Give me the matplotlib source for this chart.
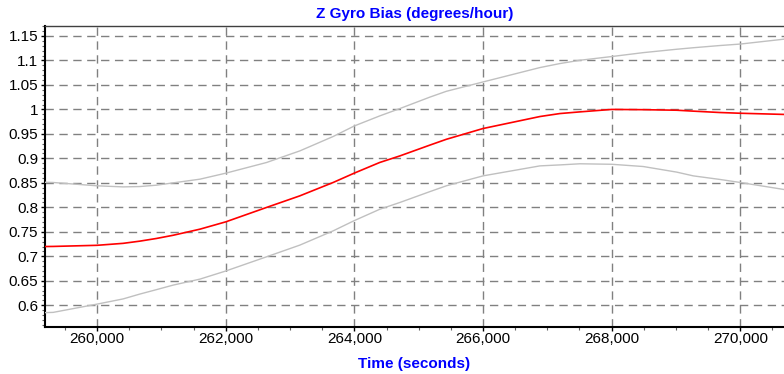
import numpy as np
import matplotlib
matplotlib.use("Agg")
import matplotlib.pyplot as plt
from matplotlib.ticker import FuncFormatter, MultipleLocator

# values
time_s = [259190, 259316, 260000, 260404, 260664, 260924, 261182, 261600, 262000,
          262634, 263152, 263670, 264000, 264393, 264708, 265171, 265430, 266000,
          266885, 267196, 267507, 268000, 268492, 269011, 269270, 269684, 270000,
          270680]
bias = [0.7200, 0.7202, 0.7225, 0.7265, 0.7310, 0.7365, 0.7430, 0.7555, 0.7704,
        0.7998, 0.8235, 0.8508, 0.8700, 0.8916, 0.9051, 0.9270, 0.9390, 0.9610,
        0.9855, 0.9916, 0.9950, 1.0000, 0.9995, 0.9984, 0.9965, 0.9937, 0.9922,
        0.9898]
upper = [0.8512, 0.8508, 0.8440, 0.8418, 0.8425, 0.8453, 0.8500, 0.8576, 0.8698,
         0.8916, 0.9153, 0.9447, 0.9663, 0.9867, 1.0018, 1.0250, 1.0370, 1.0561,
         1.0855, 1.0937, 1.1004, 1.1080, 1.1160, 1.1229, 1.1260, 1.1305, 1.1335,
         1.1435]
lower = [0.5850, 0.5855, 0.6024, 0.6130, 0.6229, 0.6320, 0.6412, 0.6535, 0.6700,
         0.6990, 0.7229, 0.7520, 0.7730, 0.7960, 0.8100, 0.8320, 0.8440, 0.8643,
         0.8847, 0.8867, 0.8890, 0.8880, 0.8834, 0.8720, 0.8643, 0.8570, 0.8508,
         0.8365]

plt.rcParams['font.family'] = ['Liberation Sans', 'DejaVu Sans']

fig = plt.figure(figsize=(7.84, 3.74), dpi=100)
ax = fig.add_axes([0.0574, 0.1265, 0.9426, 0.804])

ax.plot(time_s, upper, color="#c0c0c0", lw=1.0, zorder=3)
ax.plot(time_s, lower, color="#c0c0c0", lw=1.0, zorder=3)
ax.plot(time_s, bias, color="#ff0000", lw=1.2, zorder=4)

ax.set_xlim(259190, 270680)
ax.set_ylim(0.5563, 1.1704)

ax.xaxis.set_major_locator(MultipleLocator(2000))
ax.xaxis.set_minor_locator(MultipleLocator(500))
ax.yaxis.set_major_locator(MultipleLocator(0.05))
ax.yaxis.set_minor_locator(MultipleLocator(0.01))
ax.xaxis.set_major_formatter(FuncFormatter(lambda v, p: f"{int(round(v)):,}"))
ax.yaxis.set_major_formatter(FuncFormatter(lambda v, p: f"{v:.2f}".rstrip("0").rstrip(".")))

ax.grid(True, which="major", color="#808080", linestyle=(0, (6, 4)), lw=1.0, zorder=1)

ax.spines["right"].set_visible(False)
ax.spines["top"].set_color("#404040")
ax.spines["top"].set_linewidth(1.0)
ax.spines["left"].set_linewidth(1.5)
ax.spines["bottom"].set_linewidth(1.5)

ax.tick_params(axis="both", which="major", direction="out", length=3, width=1,
               labelsize=11, colors="black")
ax.tick_params(axis="both", which="minor", direction="out", length=2.5, width=0.8,
               color="#606060")
ax.tick_params(axis="x", pad=0.5)
ax.tick_params(axis="y", pad=2)

ax.set_title("Z Gyro Bias (degrees/hour)", color="#0000ff", fontsize=11,
             fontweight="bold", pad=6)
ax.set_xlabel("Time (seconds)", color="#0000ff", fontsize=11, fontweight="bold",
              labelpad=8)

fig.savefig("out.png", dpi=100)
